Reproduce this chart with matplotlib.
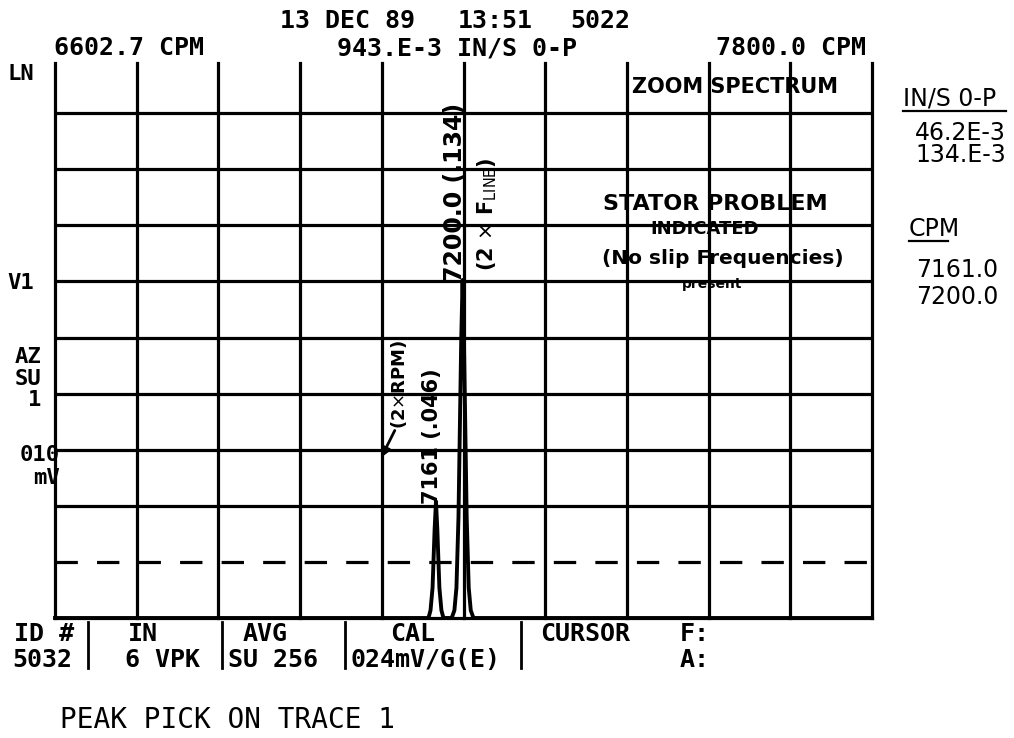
#%% Imports

import matplotlib
matplotlib.use('Agg')
import matplotlib.pyplot as plt

#%% Data

# sweep limits (CPM) and trace amplitude (IN/S 0-P)
cpm_start = 6602.7
cpm_stop = 7800.0

trace_cpm = [6602.7, 7150, 7153, 7156, 7159, 7161, 7163, 7166, 7169, 7172,
             7184, 7188, 7191, 7194, 7198, 7200, 7202, 7206, 7209, 7212, 7216,
             7800.0]
trace_amp = [0.0, 0.0, 0.003, 0.012, 0.035, 0.0462, 0.035, 0.012, 0.003, 0.0,
             0.0, 0.003, 0.012, 0.040, 0.110, 0.134, 0.110, 0.040, 0.012,
             0.003, 0.0, 0.0]

# peak table on the right
peak_amp_labels = ['46.2E-3', '134.E-3']
peak_cpm_labels = ['7161.0', '7200.0']

# header / status texts
header_date = ['13 DEC 89', '13:51', '5022']
header_scale = ['6602.7 CPM', '943.E-3 IN/S 0-P', '7800.0 CPM']
status_top = ['ID #', 'IN', 'AVG', 'CAL', 'CURSOR', 'F:']
status_bot = ['5032', '6 VPK', 'SU 256', '024mV/G(E)', '', 'A:']

#%% Figure

W, H = 1014, 738
fig = plt.figure(figsize=(W / 100, H / 100), dpi=100)
fig.patch.set_facecolor('white')

# grid area in pixels
gx0, gx1 = 55, 872
gy0, gy1 = 57, 618
ymax = 0.2224

ax = fig.add_axes([gx0 / W, 1 - gy1 / H, (gx1 - gx0) / W, (gy1 - gy0) / H])
ax.set_xlim(cpm_start, cpm_stop)
ax.set_ylim(0, ymax)
ax.axis('off')

lw = 2.3
ndiv = 10
dx = (cpm_stop - cpm_start) / ndiv
for k in range(ndiv + 1):
    ax.axvline(cpm_start + k * dx, ymin=0, ymax=0.99, color='black', lw=lw,
               clip_on=False)
for k in range(2, ndiv):
    ax.axhline(ymax * k / ndiv, color='black', lw=lw)
ax.axhline(ymax / ndiv, color='black', lw=lw, ls=(0, (7, 6)))
ax.axhline(0, color='black', lw=lw, clip_on=False)

# spectrum trace
ax.plot(trace_cpm, trace_amp, color='black', lw=2.8, clip_on=False,
        solid_joinstyle='round')

# overlay axes in pixel coordinates for all the text
ov = fig.add_axes([0, 0, 1, 1])
ov.set_xlim(0, W)
ov.set_ylim(H, 0)
ov.axis('off')
ov.patch.set_alpha(0)

mono = dict(family='DejaVu Sans Mono', weight='bold', fontsize=18,
            va='center', color='black')

# header
for s, x in zip(header_date, [280, 458, 570]):
    ov.text(x, 21, s, ha='left', **mono)
for s, x in zip(header_scale, [54, 337, 716]):
    ov.text(x, 48, s, ha='left', **mono)

# left side labels
side = dict(family='DejaVu Sans Mono', weight='bold', fontsize=16,
            va='center', color='black')
ov.text(7, 74, 'LN', ha='left', **side)
ov.text(7, 283, 'V1', ha='left', **side)
ov.text(41, 357, 'AZ', ha='right', **side)
ov.text(41, 379, 'SU', ha='right', **side)
ov.text(41, 400, '1', ha='right', **side)
ov.text(60, 455, '010', ha='right', **side)
ov.text(60, 478, 'mV', ha='right', **side)

# status bar
for s, x in zip(status_top, [14, 128, 243, 390, 540, 680]):
    ov.text(x, 634, s, ha='left', **mono)
for s, x in zip(status_bot, [12, 125, 228, 350, 540, 680]):
    ov.text(x, 660, s, ha='left', **mono)
for x in [88, 222, 345, 521]:
    ov.plot([x, x], [622, 668], color='black', lw=2)

ov.text(60, 720, 'PEAK PICK ON TRACE 1', ha='left', va='center',
        family='DejaVu Sans Mono', fontsize=20, color='black')

# right hand peak table
rt = dict(family='DejaVu Sans', fontsize=17, va='center', color='black')
ov.text(903, 99, 'IN/S 0-P', ha='left', **rt)
ov.plot([903, 1006], [111, 111], color='black', lw=1.6)
for s, y in zip(peak_amp_labels, [133, 155]):
    ov.text(1006, y, s, ha='right', **rt)
ov.text(909, 229, 'CPM', ha='left', **rt)
ov.plot([909, 948], [241, 241], color='black', lw=1.6)
for s, y in zip(peak_cpm_labels, [270, 297]):
    ov.text(916, y, s, ha='left', **rt)

# handwritten notes
hand = dict(family='DejaVu Sans', weight='bold', color='black',
            ha='center', va='center')
ov.text(735, 87, 'ZOOM SPECTRUM', fontsize=15, **hand)
ov.text(715, 204, 'STATOR PROBLEM', fontsize=16, **hand)
ov.text(705, 229, 'INDICATED', fontsize=13, **hand)
ov.text(723, 259, '(No slip Frequencies)', fontsize=14.5, **hand)
ov.text(712, 284, 'present', fontsize=10, **hand)
ov.text(455, 192, '7200.0 (.134)', fontsize=17, rotation=90, **hand)
ov.text(487, 214, r'(2 $\times$ F$_{\rm LINE}$)', fontsize=15, rotation=90, **hand)
ov.text(399, 384, r'(2$\times$RPM)', fontsize=13, rotation=90, **hand)
ov.text(432, 436, '7161 (.046)', fontsize=15, rotation=90, **hand)
ov.annotate('', xy=(380, 460), xytext=(396, 428),
            arrowprops=dict(arrowstyle='-|>', color='black', lw=2,
                            mutation_scale=14))

fig.savefig('out.png', dpi=100, facecolor='white')
